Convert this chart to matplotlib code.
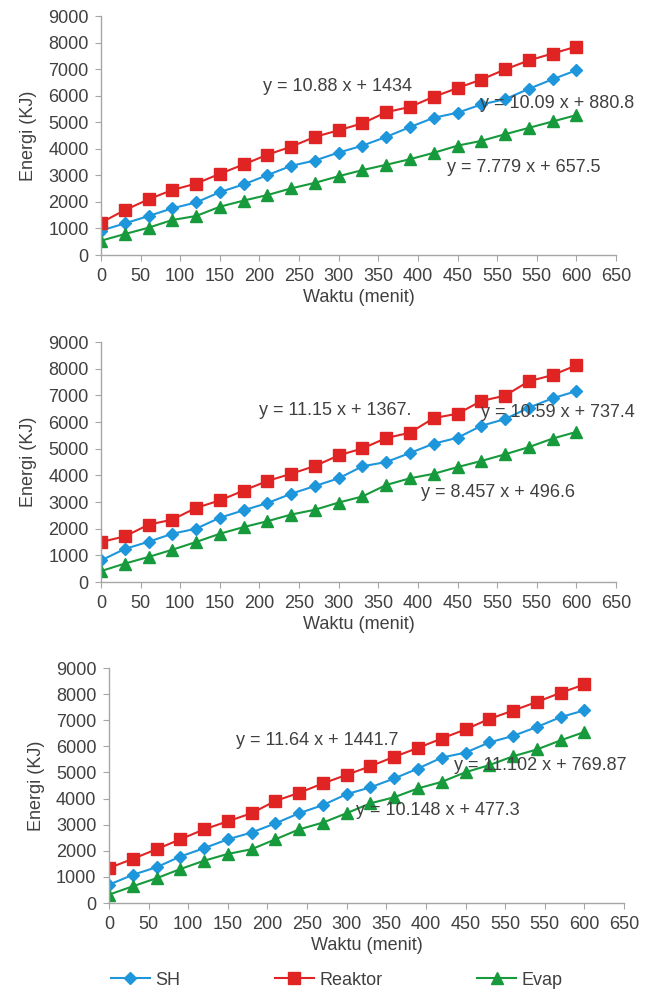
import matplotlib
matplotlib.use('Agg')
import matplotlib.pyplot as plt
import numpy as np

plt.rcParams['font.family'] = ['Liberation Sans', 'DejaVu Sans']
plt.rcParams['font.size'] = 13

waktu = list(range(0, 601, 30))

sh_1 = [920, 1190, 1470, 1760, 1980, 2370, 2660, 3010, 3360, 3560, 3860,
        4120, 4450, 4820, 5170, 5360, 5670, 5870, 6260, 6620, 6960]
reaktor_1 = [1220, 1690, 2100, 2450, 2690, 3060, 3410, 3780, 4080, 4450, 4700,
             4960, 5380, 5580, 5960, 6290, 6610, 6990, 7330, 7590, 7850]
evap_1 = [540, 790, 1030, 1320, 1470, 1820, 2050, 2260, 2510, 2720, 2970,
          3200, 3400, 3610, 3850, 4120, 4300, 4550, 4790, 5030, 5270]

sh_2 = [810, 1240, 1510, 1810, 2000, 2410, 2690, 2960, 3310, 3600, 3890,
        4340, 4500, 4840, 5190, 5410, 5860, 6110, 6540, 6890, 7160]
reaktor_2 = [1500, 1710, 2150, 2340, 2780, 3060, 3430, 3790, 4060, 4350, 4750,
             5010, 5400, 5600, 6150, 6310, 6790, 6990, 7530, 7760, 8130]
evap_2 = [410, 690, 940, 1210, 1500, 1810, 2060, 2280, 2530, 2710, 2980,
          3210, 3640, 3890, 4060, 4310, 4540, 4790, 5060, 5380, 5630]

sh_3 = [700, 1080, 1370, 1780, 2100, 2440, 2700, 3050, 3440, 3750, 4170,
        4430, 4770, 5150, 5570, 5760, 6150, 6400, 6740, 7120, 7380]
reaktor_3 = [1340, 1690, 2060, 2440, 2820, 3130, 3440, 3910, 4220, 4580, 4910,
             5240, 5600, 5940, 6300, 6650, 7050, 7370, 7700, 8050, 8370]
evap_3 = [320, 640, 950, 1300, 1620, 1880, 2060, 2440, 2820, 3080, 3440,
          3820, 4050, 4390, 4640, 5010, 5280, 5620, 5880, 6230, 6550]

x_ticks = list(range(0, 651, 50))
x_labels = ['0', '50', '100', '150', '200', '250', '300', '350', '400',
            '450', '550', '550', '600', '650']
y_ticks = list(range(0, 9001, 1000))

eq_1 = [('y = 10.88 x + 1434', 205, 6330),
        ('y = 10.09 x + 880.8', 478, 5690),
        ('y = 7.779 x + 657.5', 437, 3310)]
eq_2 = [('y = 11.15 x + 1367.', 199, 6450),
        ('y = 10.59 x + 737.4', 480, 6375),
        ('y = 8.457 x + 496.6', 404, 3340)]
eq_3 = [('y = 11.64 x + 1441.7', 160, 6240),
        ('y = 11.102 x + 769.87', 436, 5250),
        ('y = 10.148 x + 477.3', 312, 3560)]

c_sh = '#1E96DC'
c_re = '#E02424'
c_ev = '#169A3C'
txt = '#404040'
axc = '#A6A6A6'

fig = plt.figure(figsize=(6.55, 9.92), dpi=100)

positions = [[0.1542, 0.7429, 0.7863, 0.2409],
             [0.1542, 0.4133, 0.7863, 0.2419],
             [0.1664, 0.0897, 0.7863, 0.2369]]
panels = [(sh_1, reaktor_1, evap_1, eq_1),
          (sh_2, reaktor_2, evap_2, eq_2),
          (sh_3, reaktor_3, evap_3, eq_3)]

for pos, (sh, re, ev, eqs) in zip(positions, panels):
    ax = fig.add_axes(pos)
    ax.plot(waktu, sh, '-D', color=c_sh, lw=1.5, ms=6, label='SH')
    ax.plot(waktu, re, '-s', color=c_re, lw=1.5, ms=8.5, label='Reaktor')
    ax.plot(waktu, ev, '-^', color=c_ev, lw=1.5, ms=8.5, label='Evap')
    for s, x, y in eqs:
        ax.text(x, y, s, color=txt, fontsize=13, va='center', ha='left',
                clip_on=False)
    ax.set_xlim(0, 650)
    ax.set_ylim(0, 9000)
    ax.set_xticks(x_ticks)
    ax.set_xticklabels(x_labels)
    ax.set_yticks(y_ticks)
    for side in ['top', 'right']:
        ax.spines[side].set_visible(False)
    for side in ['left', 'bottom']:
        ax.spines[side].set_color(axc)
        ax.spines[side].set_linewidth(1.0)
    ax.tick_params(direction='out', length=4, color=axc, labelcolor=txt,
                   labelsize=13, pad=5)
    ax.set_xlabel('Waktu (menit)', color=txt, fontsize=13, labelpad=3)
    ax.set_ylabel('Energi (KJ)', color=txt, fontsize=13, labelpad=8)
    handles, labels = ax.get_legend_handles_labels()

fig.legend(handles, labels, loc='center', bbox_to_anchor=(0.514, 0.012),
           ncol=3, frameon=False, fontsize=13, handlelength=2.2,
           handletextpad=0.3, columnspacing=5.2, labelcolor=txt)

fig.savefig('out.png', dpi=100)
